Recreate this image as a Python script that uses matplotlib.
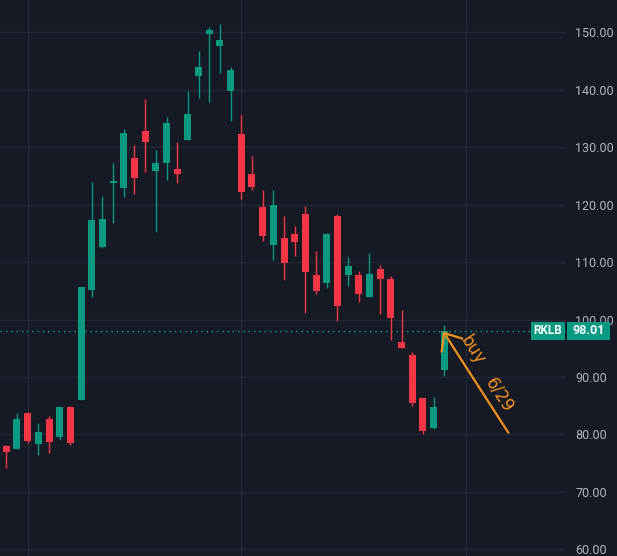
#!/usr/bin/env python3
# rklb daily candles, dark chart style

import numpy as np
import matplotlib
matplotlib.use('Agg')
import matplotlib.pyplot as plt
from matplotlib.patches import Rectangle

# ohlc per session, oldest first
opens = [77.95, 77.4, 83.7, 78.3, 82.6, 79.5, 84.7, 85.9, 105.2, 112.7,
         123.8, 122.9, 128.1, 132.8, 125.9, 127.3, 126.2, 131.25, 142.4, 149.65,
         147.6, 139.8, 132.3, 125.35, 119.6, 113.0, 114.2, 114.8, 118.4, 107.8,
         106.4, 118.1, 107.8, 107.8, 104.0, 108.85, 107.1, 96.0, 93.9, 86.3,
         81.1, 91.15]
highs = [78.1, 83.7, 83.85, 81.9, 83.2, 84.7, 84.9, 105.7, 124.0, 121.5,
         127.3, 133.2, 130.4, 138.4, 129.5, 135.2, 130.9, 139.8, 146.7, 151.0,
         151.4, 143.9, 135.6, 128.5, 122.6, 122.6, 118.1, 116.3, 119.8, 112.0,
         115.1, 118.4, 110.8, 108.5, 111.5, 109.55, 107.5, 101.7, 94.4, 86.3,
         86.5, 99.1]
lows = [74.2, 77.4, 78.5, 76.4, 76.7, 79.0, 78.1, 85.9, 104.0, 112.5,
        116.8, 121.35, 121.9, 125.7, 115.3, 124.3, 123.8, 131.25, 138.5, 137.85,
        142.9, 134.55, 121.0, 122.6, 113.7, 110.4, 106.8, 111.1, 101.2, 104.5,
        105.4, 99.7, 105.9, 103.1, 104.0, 101.0, 96.5, 95.0, 84.9, 80.0,
        80.9, 90.1]
closes = [77.0, 82.6, 78.8, 80.4, 78.65, 84.7, 78.5, 105.6, 117.4, 117.5,
          124.1, 132.5, 124.65, 130.9, 127.3, 134.2, 125.35, 135.8, 143.9, 150.35,
          148.6, 143.4, 122.2, 123.1, 114.6, 120.0, 109.9, 113.5, 108.2, 104.9,
          114.8, 102.3, 109.4, 104.5, 108.0, 107.1, 100.2, 95.0, 85.4, 80.6,
          84.7, 98.01]

ticker = 'RKLB'
last_price = 98.01
price_ticks = [60, 70, 80, 90, 100, 110, 120, 130, 140, 150]
month_starts = [2, 22, 43]   # vertical grid (session index)

# hand drawn note: arrow tail -> tip, and the two words
arrow_tip = (40.9, 97.9)
arrow_tail = (47.0, 80.3)
note_words = [('buy', 43.6, 94.7), ('6/29', 46.2, 86.9)]

BG = '#161a25'
GRID = '#252936'
UP = '#089981'
DOWN = '#f23645'
ORANGE = '#f5921e'
LABEL = '#b2b5be'
FONT = 'Roboto'

W, H = 617, 556
fig = plt.figure(figsize=(W / 100, H / 100), dpi=100, facecolor=BG)
ax = fig.add_axes([0, 0, 566 / W, 1])
ax.set_facecolor(BG)

ylo, yhi = 58.83, 155.62
ax.set_xlim(-0.59, 52.4)
ax.set_ylim(ylo, yhi)

# grid
for p in price_ticks:
    ax.axhline(p, color=GRID, lw=1.0, zorder=0)
for m in month_starts:
    ax.axvline(m, color=GRID, lw=1.0, zorder=0)

# candles
body_w = 0.655
for i, (o, h, l, c) in enumerate(zip(opens, highs, lows, closes)):
    col = UP if c >= o else DOWN
    ax.vlines(i, l, h, color=col, lw=1.0, zorder=2)
    lo_b, hi_b = min(o, c), max(o, c)
    hgt = max(hi_b - lo_b, 0.25)
    ax.add_patch(Rectangle((i - body_w / 2, lo_b), body_w, hgt,
                           facecolor=col, edgecolor='none', zorder=3))

# last price dotted line
ax.axhline(last_price, color=UP, lw=1.0, linestyle=(0, (1.2, 2.6)), zorder=1)

# price axis on the right
ax.yaxis.tick_right()
ax.set_yticks(price_ticks)
ax.set_yticklabels([f'{p:.2f}' for p in price_ticks], fontfamily=FONT)
ax.tick_params(axis='y', length=0, pad=6.5, labelsize=9, labelcolor=LABEL)
ax.set_xticks([])
for s in ax.spines.values():
    s.set_visible(False)

# ticker / price tags
yf = (last_price - ylo) / (yhi - ylo)
tag_h = 17.6 / H
fig.add_artist(Rectangle((531 / W, yf - tag_h / 2), 34 / W, tag_h,
                         transform=fig.transFigure, facecolor=UP, edgecolor='none'))
fig.add_artist(Rectangle((567 / W, yf - tag_h / 2), 43 / W, tag_h,
                         transform=fig.transFigure, facecolor=UP, edgecolor='none'))
fig.text(548 / W, yf, ticker, color='white', fontsize=8.5, fontweight='bold',
         fontfamily=FONT, ha='center', va='center')
fig.text(588.5 / W, yf, f'{last_price:.2f}', color='white', fontsize=9,
         fontweight='bold', fontfamily=FONT, ha='center', va='center')

# orange note
ax.annotate('', xy=arrow_tip, xytext=arrow_tail,
            arrowprops=dict(arrowstyle='->,head_length=1.3,head_width=1.1',
                            mutation_scale=8, color=ORANGE, lw=1.6,
                            shrinkA=0, shrinkB=0), zorder=5)
for word, wx, wy in note_words:
    ax.text(wx, wy, word, color=ORANGE, fontsize=12, rotation=-57,
            rotation_mode='anchor', ha='center', va='center', zorder=5)

fig.savefig('out.png', dpi=100, facecolor=BG)
print('saved out.png')
